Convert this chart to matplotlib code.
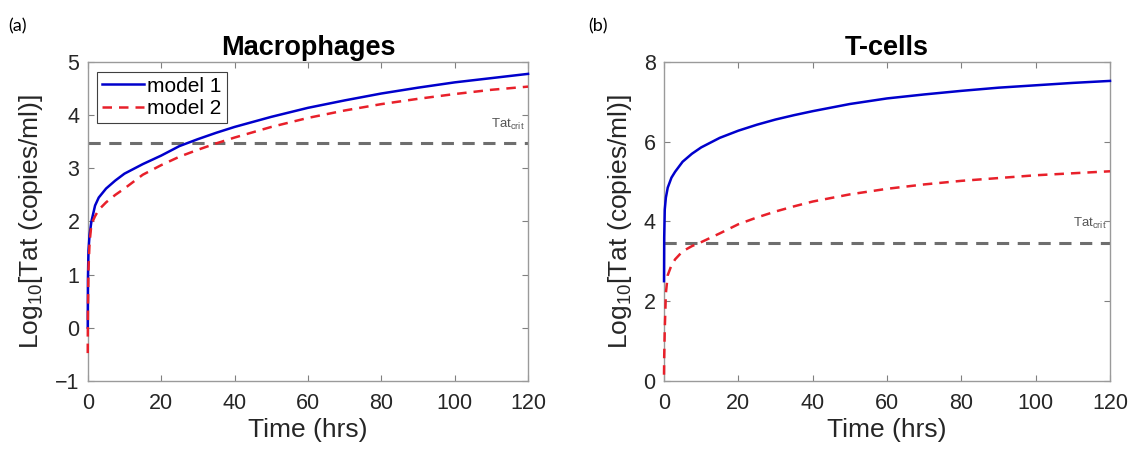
import matplotlib
matplotlib.use("Agg")
import matplotlib.pyplot as plt
import numpy as np

plt.rcParams['font.family'] = ['Liberation Sans', 'DejaVu Sans']
plt.rcParams['mathtext.default'] = 'regular'

# values (time in hrs, log10 Tat)
t_mac1 = [0, 0.05, 0.2, 0.5, 1, 2, 3, 5, 7.5, 10, 15, 20, 25, 30, 35, 40, 50, 60, 70, 80, 90, 100, 110, 120]
mac_model1 = [0.0, 0.9, 1.45, 1.75, 2.0, 2.3, 2.45, 2.62, 2.77, 2.9, 3.08, 3.24, 3.42, 3.55, 3.67, 3.78,
              3.97, 4.14, 4.28, 4.41, 4.52, 4.62, 4.7, 4.78]
t_mac2 = [0, 0.05, 0.2, 0.5, 1, 2, 3, 5, 7.5, 10, 15, 20, 25, 30, 35, 40, 50, 60, 70, 80, 90, 100, 110, 120]
mac_model2 = [-0.48, 0.3, 1.1, 1.6, 1.95, 2.1, 2.22, 2.36, 2.5, 2.62, 2.88, 3.06, 3.22, 3.35, 3.47, 3.58,
              3.78, 3.95, 4.09, 4.21, 4.31, 4.4, 4.48, 4.54]

t_tc = [0, 0.05, 0.2, 0.5, 1, 2, 3, 5, 7.5, 10, 15, 20, 25, 30, 35, 40, 50, 60, 70, 80, 90, 100, 110, 120]
tc_model1 = [2.5, 3.6, 4.3, 4.6, 4.85, 5.1, 5.25, 5.5, 5.7, 5.86, 6.1, 6.28, 6.43, 6.56, 6.67, 6.77,
             6.95, 7.09, 7.19, 7.28, 7.36, 7.42, 7.48, 7.53]
tc_model2 = [0.15, 0.6, 1.3, 2.2, 2.65, 2.9, 3.05, 3.25, 3.38, 3.48, 3.7, 3.93, 4.1, 4.25, 4.38, 4.5,
             4.68, 4.82, 4.93, 5.02, 5.09, 5.16, 5.21, 5.26]

tat_crit = 3.47
xticks = [0, 20, 40, 60, 80, 100, 120]

fig = plt.figure(figsize=(11.38, 4.55), dpi=100)
ax1 = fig.add_axes([0.0771, 0.1633, 0.3869, 0.70])
ax2 = fig.add_axes([0.5835, 0.1633, 0.3919, 0.70])

blue = '#0000cc'
red = '#e8202a'
grey = '#6e6e6e'

panels = [
    (ax1, t_mac1, mac_model1, t_mac2, mac_model2, 'Macrophages', (-1, 5), [-1, 0, 1, 2, 3, 4, 5]),
    (ax2, t_tc, tc_model1, t_tc, tc_model2, 'T-cells', (0, 8), [0, 2, 4, 6, 8]),
]

for ax, ta, ya, tb, yb, title, ylim, yticks in panels:
    ax.plot(ta, ya, color=blue, lw=1.8, label='model 1', zorder=3, clip_on=False)
    ax.plot(tb, yb, color=red, lw=1.8, ls=(0, (3.8, 2.8)), label='model 2', zorder=3, clip_on=False)
    ax.axhline(tat_crit, color=grey, lw=2.2, ls=(0, (4, 2.8)))
    span = ylim[1] - ylim[0]
    ax.text(119, tat_crit + 0.035 * span, 'Tat$_{crit}$', ha='right', va='bottom',
            fontsize=9.5, color='#555555')
    ax.set_xlim(0, 120)
    ax.set_ylim(*ylim)
    ax.set_xticks(xticks)
    ax.set_yticks(yticks)
    ax.set_title(title, fontsize=19.5, fontweight='bold', pad=5)
    ax.set_xlabel('Time (hrs)', fontsize=19, color='#262626', labelpad=3)
    ax.set_ylabel('Log$_{10}$[Tat (copies/ml)]', fontsize=19, color='#262626', labelpad=7)
    ax.tick_params(direction='in', top=True, right=True, length=4.5, width=0.8,
                   colors='#808080', labelcolor='#262626', labelsize=15.5)
    ax.tick_params(axis='x', pad=9)
    ax.tick_params(axis='y', pad=6)
    for s in ax.spines.values():
        s.set_color('#9a9a9a')
        s.set_linewidth(1.0)

leg = ax1.legend(loc='upper left', fontsize=15, handlelength=2.0, handletextpad=0.15,
                 borderpad=0.25, labelspacing=0.15, borderaxespad=0.45, fancybox=False,
                 framealpha=1)
leg.get_frame().set_edgecolor('#404040')
leg.get_frame().set_linewidth(0.8)

fig.text(0.007, 0.932, '(a)', fontsize=13, family=['Lato', 'DejaVu Sans'])
fig.text(0.517, 0.932, '(b)', fontsize=13, family=['Lato', 'DejaVu Sans'])

fig.savefig('out.png', dpi=100)
